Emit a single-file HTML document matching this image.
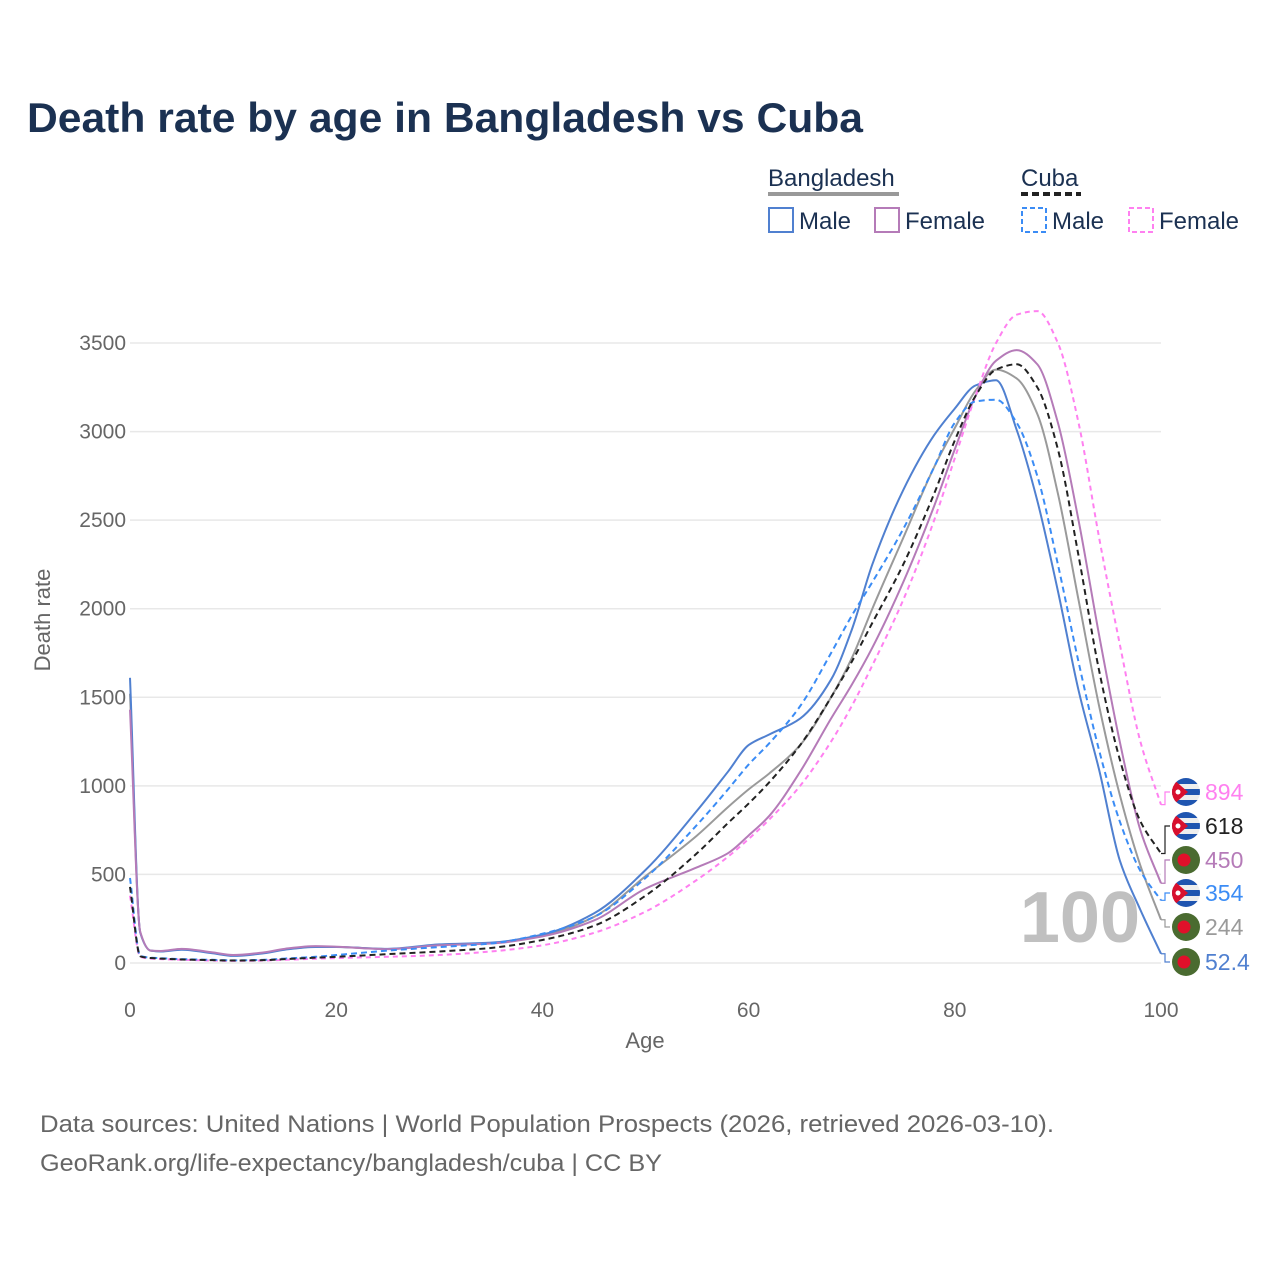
<!DOCTYPE html>
<html><head><meta charset="utf-8"><style>
body{margin:0;background:#fff;font-family:"Liberation Sans",sans-serif}
</style></head><body>
<svg width="1280" height="1280" xmlns="http://www.w3.org/2000/svg" id="svg" style="font-family:'Liberation Sans',sans-serif">
<rect width="1280" height="1280" fill="#fff"/>
<text x="27" y="132" font-size="42" font-weight="bold" fill="#1b3152" textLength="836" lengthAdjust="spacingAndGlyphs">Death rate by age in Bangladesh vs Cuba</text>
<g font-size="24" fill="#1b3152">
<text x="768" y="186">Bangladesh</text>
<line x1="768" y1="194" x2="899" y2="194" stroke="#999" stroke-width="4"/>
<text x="1021" y="186">Cuba</text>
<line x1="1021" y1="194" x2="1081" y2="194" stroke="#222" stroke-width="4" stroke-dasharray="7,4"/>
<g><rect x="769" y="208" width="24" height="24" fill="none" stroke="#5080d0" stroke-width="2"/><text x="799" y="229">Male</text></g>
<g><rect x="875" y="208" width="24" height="24" fill="none" stroke="#b57bb8" stroke-width="2"/><text x="905" y="229">Female</text></g>
<g><rect x="1022" y="208" width="24" height="24" fill="none" stroke="#3b8cf5" stroke-width="2" stroke-dasharray="5,3"/><text x="1052" y="229">Male</text></g>
<g><rect x="1129" y="208" width="24" height="24" fill="none" stroke="#ff80f0" stroke-width="2" stroke-dasharray="5,3"/><text x="1159" y="229">Female</text></g>
</g>
<g id="grid"></g>
<text x="1140" y="942" font-size="72" font-weight="bold" fill="#c0c0c0" text-anchor="end">100</text>
<g id="series"></g>
<g id="labels"></g>
<text x="645" y="1048" font-size="22" fill="#666" text-anchor="middle">Age</text>
<text transform="translate(50,620) rotate(-90)" font-size="22" fill="#666" text-anchor="middle">Death rate</text>
<text x="40" y="1132" font-size="24" fill="#666" textLength="1014" lengthAdjust="spacingAndGlyphs">Data sources: United Nations | World Population Prospects (2026, retrieved 2026-03-10).</text>
<text x="40" y="1171" font-size="24" fill="#666" textLength="622" lengthAdjust="spacingAndGlyphs">GeoRank.org/life-expectancy/bangladesh/cuba | CC BY</text>
</svg>
<script>
const ages=[0,1,2,3,5,8,10,13,15,18,20,25,30,35,40,45,50,55,58,60,62,65,68,70,72,75,78,80,82,84,86,88,90,92,94,96,98,100];
const bdMale=[1610,170,70,65,75,55,40,55,75,90,90,80,105,115,160,280,525,860,1080,1230,1290,1380,1600,1880,2250,2670,2980,3130,3260,3290,3010,2610,2100,1540,1090,580,300,52.4];
const bdFemale=[1430,175,70,68,80,60,45,60,80,95,92,78,100,110,150,240,420,540,620,720,830,1080,1380,1570,1780,2150,2580,2900,3200,3400,3460,3380,3050,2500,1850,1250,750,450];
const bdTotal=[1520,172,70,66,78,57,42,57,77,92,91,79,102,112,155,260,490,720,880,980,1070,1230,1500,1720,2000,2400,2800,3020,3230,3350,3300,3100,2650,2050,1450,950,550,244];
const cuMale=[480,40,30,27,22,18,15,18,25,35,45,70,90,110,165,260,480,780,980,1120,1240,1450,1750,1960,2150,2450,2800,3050,3170,3180,3050,2750,2250,1700,1200,800,520,354];
const cuFemale=[380,35,25,22,18,14,12,14,18,24,28,35,45,65,100,170,290,470,600,700,810,1000,1250,1450,1680,2050,2500,2850,3200,3500,3660,3680,3500,3050,2400,1800,1250,894];
const cuTotal=[430,38,28,25,20,16,14,16,22,30,35,50,65,85,130,210,380,620,790,900,1020,1230,1500,1700,1920,2250,2650,2950,3200,3350,3380,3250,2900,2300,1650,1150,800,618];
const yTicks=[0,500,1000,1500,2000,2500,3000,3500];
const xTicks=[0,20,40,60,80,100];
const endLabels=["894","618","450","354","244","52.4"];
const NS="http://www.w3.org/2000/svg";
const X=a=>130+a*10.31, Y=v=>963-v*620/3500;
function mk(t,at,p){const e=document.createElementNS(NS,t);for(const k in at)e.setAttribute(k,at[k]);(p||document.getElementById('svg')).appendChild(e);return e;}
const grid=document.getElementById('grid');
yTicks.forEach(v=>{
 const l=mk('line',{x1:130,x2:1161,y1:Y(v),y2:Y(v),stroke:'#e8e8e8','stroke-width':1.5},grid);
 
 
 const t=mk('text',{x:126,y:Y(v)+7,'font-size':21,fill:'#666','text-anchor':'end'},grid);t.textContent=v;
 
 
});
xTicks.forEach(a=>{
 const t=mk('text',{x:X(a),y:1017,'font-size':21,fill:'#666','text-anchor':'middle'},grid);t.textContent=a;
 
 
});
function path(vals){
 const xs=ages.map(X), ys=vals.map(Y), n=xs.length;
 const d=[],m=new Array(n);
 for(let i=0;i<n-1;i++)d.push((ys[i+1]-ys[i])/(xs[i+1]-xs[i]));
 m[0]=d[0];m[n-1]=d[n-2];
 for(let i=1;i<n-1;i++){
  if(d[i-1]*d[i]<=0)m[i]=0;
  else{const w1=2*(xs[i+1]-xs[i])+(xs[i]-xs[i-1]),w2=(xs[i+1]-xs[i])+2*(xs[i]-xs[i-1]);m[i]=(w1+w2)/(w1/d[i-1]+w2/d[i]);}
 }
 let s='M'+xs[0]+','+ys[0];
 for(let i=0;i<n-1;i++){
  const h=(xs[i+1]-xs[i])/3;
  s+=` C${xs[i]+h},${ys[i]+m[i]*h} ${xs[i+1]-h},${ys[i+1]-m[i+1]*h} ${xs[i+1]},${ys[i+1]}`;
 }
 return s;
}
const sg=document.getElementById('series');
const S=[
 [bdTotal,'#9a9a9a',null,'series-bangladesh-total'],
 [bdMale,'#5080d0',null,'series-bangladesh-male'],
 [bdFemale,'#b57bb8',null,'series-bangladesh-female'],
 [cuFemale,'#ff80f0','5,4','series-cuba-female'],
 [cuMale,'#3b8cf5','6,4','series-cuba-male'],
 [cuTotal,'#222','6,4','series-cuba-total']];
S.forEach(s=>{
 const at={d:path(s[0]),fill:'none',stroke:s[1],'stroke-width':2};
 if(s[2])at['stroke-dasharray']=s[2];
 const e=mk('path',at,sg);
 
 
});
const lg=document.getElementById('labels');
const defs=mk('defs',{});
const L=[[cuFemale,'#ff80f0','cu',792],[cuTotal,'#222','cu',826],[bdFemale,'#b57bb8','bd',860],[cuMale,'#3b8cf5','cu',893],[bdTotal,'#9a9a9a','bd',927],[bdMale,'#5080d0','bd',962]];
L.forEach((l,i)=>{
 const yv=Y(l[0][l[0].length-1]),ly=l[3];
 mk('path',{d:`M1161,${yv} L1165,${yv} L1165,${ly} L1170,${ly}`,fill:'none',stroke:l[1],'stroke-width':1.2},lg);
 const g=mk('g',{},lg);
 
 
 if(l[2]==='bd'){
  mk('circle',{cx:1186,cy:ly,r:14,fill:'#4a6b30'},g);
  mk('circle',{cx:1184,cy:ly,r:6.5,fill:'#e0102a'},g);
 }else{
  const cp=mk('clipPath',{id:'fc'+i},defs);
  mk('circle',{cx:1186,cy:ly,r:14},cp);
  const fg=mk('g',{'clip-path':`url(#fc${i})`},g);
  mk('rect',{x:1172,y:ly-14,width:28,height:28,fill:'#eee'},fg);
  [-11,0,11].forEach(o=>mk('rect',{x:1172,y:ly+o-3,width:28,height:6,fill:'#1f55b0'},fg));
  mk('path',{d:`M1172,${ly-14} L1188,${ly} L1172,${ly+14}Z`,fill:'#d8102e'},fg);
  mk('circle',{cx:1178,cy:ly,r:2.5,fill:'#fff'},fg);
 }
 const t=mk('text',{x:1205,y:ly+8,'font-size':23,fill:l[1]},lg);t.textContent=endLabels[i];
 
 
});
</script>
</body></html>
